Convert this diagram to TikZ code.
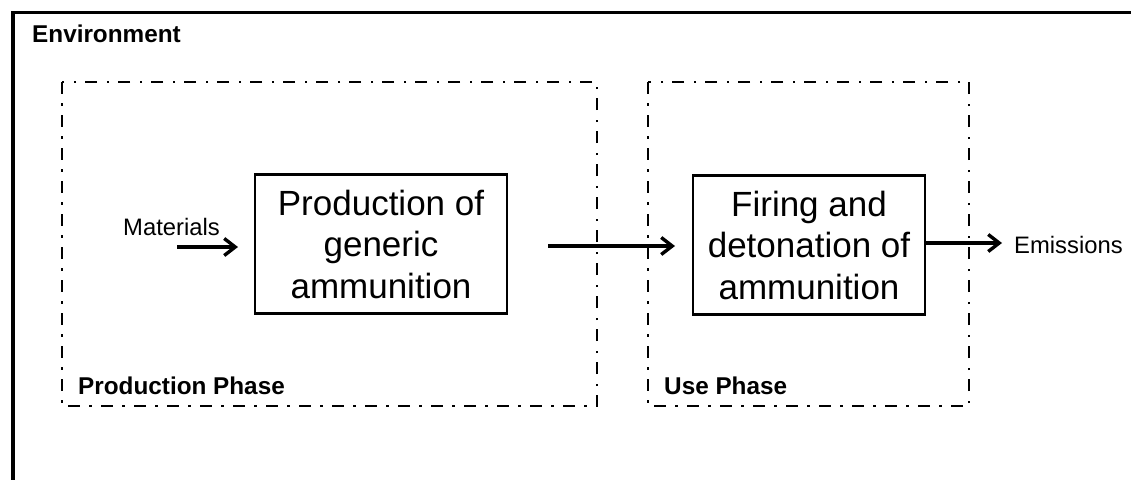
\documentclass[tikz,border=0pt]{standalone}
\usepackage{fontspec}
\setmainfont{Liberation Sans}
\usetikzlibrary{arrows.meta}
\begin{document}
\begin{tikzpicture}[x=1pt,y=-1pt,
  phasebox/.style={draw, line width=2.6pt,
    dash pattern=on 12pt off 9pt on 2.5pt off 9.5pt},
  procbox/.style={draw, line width=2.4pt, minimum width=252pt, minimum height=139pt,
    align=center, font=\fontsize{35}{41.5}\selectfont, inner sep=0pt},
  flow/.style={line width=3.4pt, -{Straight Barb[length=11pt,width=17pt,line width=3.4pt]}},
  sidetext/.style={font=\fontsize{23.8}{28}\selectfont, inner sep=0pt},
  title/.style={font=\bfseries\fontsize{24.3}{28}\selectfont, inner sep=0pt, anchor=base west}]
\useasboundingbox (0,0) rectangle (1131,479);
\begin{scope}
  \clip (0,0) rectangle (1131,479);
  % environment frame, continuing past the right and lower edges
  \draw[line width=3.4pt] (13,500) -- (13,12.5) -- (1150,12.5);
\end{scope}
\node[title] (env) at (32,42) {Environment};

% phase boundaries
\draw[phasebox] (62,82) rectangle (597,406);
\draw[phasebox] (648,82) rectangle (969,406);
\node[title] (prodphase) at (78,394) {Production Phase};
\node[title] (usephase) at (664,394) {Use Phase};

% processes
\node[procbox] (prod) at (381,244) {Production of\\generic\\ammunition};
\node[procbox, minimum width=232pt] (fire) at (809,245) {Firing and\\detonation of\\ammunition};

% flows
\node[sidetext, anchor=base west] (mat) at (123,235) {Materials};
\node[sidetext, anchor=base west] (emi) at (1014,253) {Emissions};
\coordinate (matin) at (177,247);
\coordinate (matend) at (238,247);
\coordinate (prodout) at (548,246);
\coordinate (useend) at (675,246);
\draw[flow] (matin) -- (matend);
\draw[flow] (prodout) -- (useend);
\coordinate (emiend) at (1002,243);
\draw[flow] (fire.east |- emiend) -- (emiend);
\end{tikzpicture}
\end{document}
